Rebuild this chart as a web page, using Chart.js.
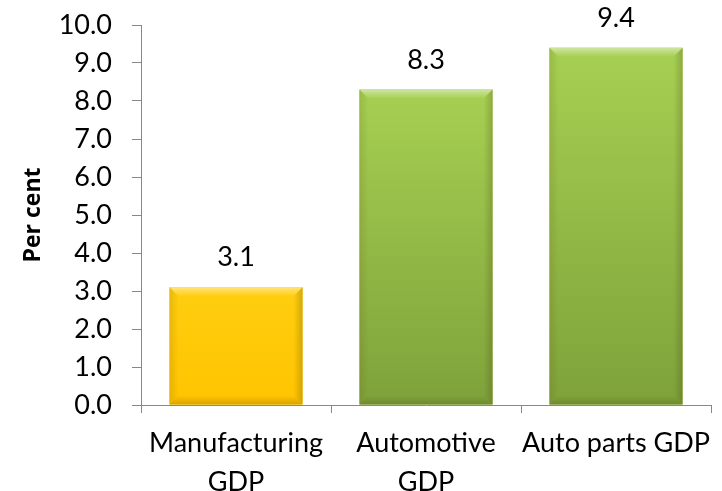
<!DOCTYPE html>
<html>
<head>
<meta charset="utf-8">
<script src="https://cdn.jsdelivr.net/npm/chart.js@4/dist/chart.umd.min.js"></script>
<style>
html,body{margin:0;padding:0;background:#fff;}
#wrap{width:722px;height:491px;position:relative;}
</style>
</head>
<body>
<div id="wrap"><canvas id="c" width="722" height="491"></canvas></div>
<script>
const categories = [["Manufacturing","GDP"],["Automotive","GDP"],["Auto parts GDP"]];
const values = [3.1, 8.3, 9.4];
const yTitle = "Per cent";
const yMin = 0, yMax = 10, yStep = 1;

const palettes = [
  {base:'#FFC800', top:'#FFCE10', bottom:'#FFC400'},
  {base:'#93C13E', top:'#A6D052', bottom:'#7EA23A'},
  {base:'#93C13E', top:'#A6D052', bottom:'#7EA23A'}
];

const bevelPlugin = {
  id:'bevel',
  afterDatasetsDraw(chart){
    const ctx = chart.ctx;
    const meta = chart.getDatasetMeta(0);
    meta.data.forEach((bar,i)=>{
      const p = palettes[i];
      const l = bar.x - bar.width/2, r = bar.x + bar.width/2;
      const t = bar.y, b = bar.base;
      const bv = 9;
      ctx.save();
      // body vertical gradient
      let g = ctx.createLinearGradient(0,t,0,b);
      g.addColorStop(0,p.top); g.addColorStop(1,p.bottom);
      ctx.fillStyle = g;
      ctx.fillRect(l,t,r-l,b-t);
      // top bevel (light)
      g = ctx.createLinearGradient(0,t,0,t+bv);
      g.addColorStop(0,'rgba(255,255,255,0.45)'); g.addColorStop(1,'rgba(255,255,255,0)');
      ctx.fillStyle = g;
      ctx.beginPath(); ctx.moveTo(l,t); ctx.lineTo(r,t); ctx.lineTo(r-bv,t+bv); ctx.lineTo(l+bv,t+bv); ctx.closePath(); ctx.fill();
      // left
      g = ctx.createLinearGradient(l,0,l+bv,0);
      g.addColorStop(0,'rgba(90,60,0,0.14)'); g.addColorStop(1,'rgba(90,60,0,0)');
      ctx.fillStyle = g;
      ctx.beginPath(); ctx.moveTo(l,t); ctx.lineTo(l+bv,t+bv); ctx.lineTo(l+bv,b-bv); ctx.lineTo(l,b); ctx.closePath(); ctx.fill();
      // right
      g = ctx.createLinearGradient(r,0,r-bv,0);
      g.addColorStop(0,'rgba(60,40,0,0.22)'); g.addColorStop(1,'rgba(60,40,0,0)');
      ctx.fillStyle = g;
      ctx.beginPath(); ctx.moveTo(r,t); ctx.lineTo(r-bv,t+bv); ctx.lineTo(r-bv,b-bv); ctx.lineTo(r,b); ctx.closePath(); ctx.fill();
      // bottom
      g = ctx.createLinearGradient(0,b,0,b-bv);
      g.addColorStop(0,'rgba(60,40,0,0.2)'); g.addColorStop(1,'rgba(60,40,0,0)');
      ctx.fillStyle = g;
      ctx.beginPath(); ctx.moveTo(l,b); ctx.lineTo(l+bv,b-bv); ctx.lineTo(r-bv,b-bv); ctx.lineTo(r,b); ctx.closePath(); ctx.fill();
      // value label
      ctx.fillStyle = '#000';
      ctx.font = '27px Lato';
      ctx.textAlign = 'center';
      ctx.textBaseline = 'alphabetic';
      ctx.fillText(values[i].toFixed(1), bar.x, t - 21);
      ctx.restore();
    });
  }
};

new Chart(document.getElementById('c'), {
  type:'bar',
  data:{
    labels: categories,
    datasets:[{
      data: values,
      backgroundColor: palettes.map(p=>p.base),
      borderWidth:0,
      categoryPercentage:0.7,
      barPercentage:1.0
    }]
  },
  plugins:[bevelPlugin],
  options:{
    responsive:false,
    animation:false,
    layout:{padding:{top:25,right:11,left:20,bottom:0}},
    plugins:{legend:{display:false},tooltip:{enabled:false}},
    scales:{
      x:{
        grid:{display:true,drawOnChartArea:false,drawTicks:true,tickLength:8,color:'#888',offset:true},
        border:{display:true,color:'#888',width:1},
        ticks:{color:'#000',font:{family:'Lato',size:27,lineHeight:1.45},padding:11,maxRotation:0,autoSkip:false},
        afterFit(s){ s.height = 86; s.paddingLeft = 0; s.paddingRight = 0; }
      },
      y:{
        min:yMin,max:yMax,
        grid:{display:true,drawOnChartArea:false,drawTicks:true,tickLength:9,color:'#888'},
        border:{display:true,color:'#888',width:1},
        ticks:{stepSize:yStep,color:'#000',font:{family:'Lato',size:27},padding:20,callback:v=>v.toFixed(1)},
        title:{display:true,text:yTitle,color:'#000',font:{family:'Open Sans',size:23,weight:'bold'},padding:0},
        afterFit(s){ s.width = 121; s.paddingTop = 0; s.paddingBottom = 0; }
      }
    }
  }
});
</script>
</body>
</html>
